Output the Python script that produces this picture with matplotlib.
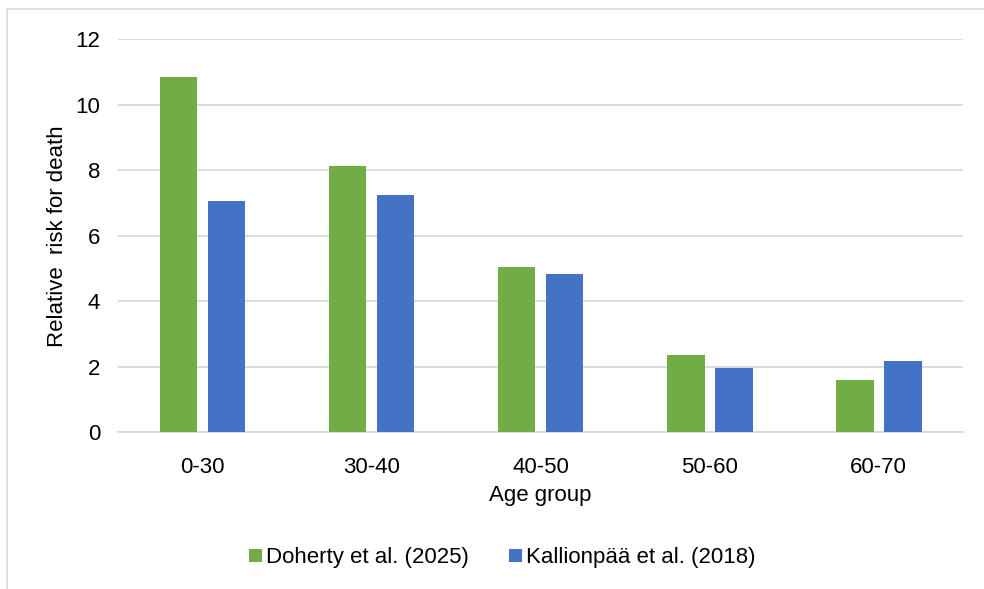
import numpy as np
import matplotlib
matplotlib.use("Agg")
import matplotlib.pyplot as plt
from matplotlib.patches import Rectangle

plt.rcParams['font.family'] = ['Liberation Sans', 'DejaVu Sans']

age_groups = ['0-30', '30-40', '40-50', '50-60', '60-70']
doherty = [10.86, 8.12, 5.04, 2.36, 1.60]
kallionpaa = [7.07, 7.24, 4.84, 1.95, 2.17]
series_names = ['Doherty et al. (2025)', 'Kallionpää et al. (2018)']

GREEN = '#70ad47'
BLUE = '#4472c4'
GRID = '#d9d9d9'
FS = 16


def main():
    fig = plt.figure(figsize=(9.84, 5.89), dpi=100)
    ax = fig.add_axes([0.12, 0.266, 0.859, 0.667])

    # chart frame, Excel style
    fig.patches.append(Rectangle((6.5 / 984, -0.1), 1.1, 1 - 9 / 589 + 0.1,
                                 transform=fig.transFigure, fill=False,
                                 edgecolor=GRID, linewidth=1.2))

    x = np.arange(len(age_groups))
    w = 0.222
    off = 0.142
    ax.bar(x - off, doherty, w, color=GREEN, label=series_names[0], zorder=3)
    ax.bar(x + off, kallionpaa, w, color=BLUE, label=series_names[1], zorder=3)

    ax.set_xlim(-0.5, len(age_groups) - 0.5)
    ax.set_ylim(0, 12)
    ax.set_yticks(range(0, 13, 2))
    ax.set_xticks(x)
    ax.set_xticklabels(age_groups)
    ax.tick_params(axis='both', length=0, labelsize=FS, colors='black')
    ax.tick_params(axis='y', pad=13)
    ax.tick_params(axis='x', pad=18)

    ax.grid(axis='y', color=GRID, linewidth=1.3, zorder=0)
    for s in ['top', 'right', 'left']:
        ax.spines[s].set_visible(False)
    ax.spines['bottom'].set_color(GRID)
    ax.spines['bottom'].set_linewidth(1.3)

    ax.set_xlabel('Age group', fontsize=FS, labelpad=5)
    ax.set_ylabel('Relative  risk for death', fontsize=FS, labelpad=5)

    ax.legend(loc='center', bbox_to_anchor=(502.5 / 984, 1 - 558 / 589),
              bbox_transform=fig.transFigure, ncol=2, frameon=False,
              fontsize=FS, handlelength=0.57, handleheight=0.57,
              handletextpad=0.2, columnspacing=1.8, borderpad=0)

    fig.savefig('out.png', dpi=100, facecolor='white')


if __name__ == "__main__":
    main()
